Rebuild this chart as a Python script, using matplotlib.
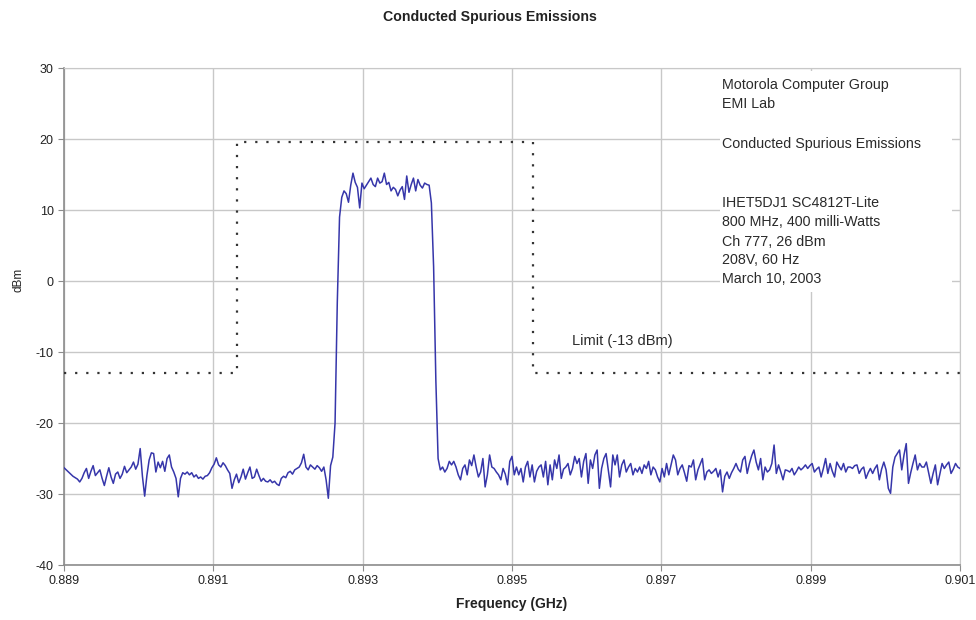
import numpy as np
import matplotlib
matplotlib.use("Agg")
import matplotlib.pyplot as plt
from matplotlib.patches import Rectangle

plt.rcParams['font.family'] = ['Liberation Sans', 'DejaVu Sans']
plt.rcParams['axes.unicode_minus'] = False

# Analyzer sweep: 401 points from 889 MHz to 901 MHz (values in GHz)
f_start, f_stop, n_points = 0.889, 0.901, 401

# Measured level (dBm), below the carrier
noise_low_band = [
    -26.3, -26.6, -26.9, -27.2, -27.5, -27.7, -27.9, -28.3, -27.8, -27.0,
    -26.4, -27.8, -26.8, -26.0, -27.4, -27.0, -26.6, -27.8, -28.8, -27.5,
    -26.3, -27.6, -28.5, -27.2, -26.9, -27.8, -27.2, -26.1, -27.0, -26.6,
    -26.2, -25.5, -26.5, -25.8, -23.6, -27.5, -30.3, -27.4, -25.2, -24.2,
    -24.3, -26.9, -25.5, -26.3, -25.4, -26.8, -25.0, -24.5, -26.2, -26.9,
    -27.8, -30.4, -27.8, -27.0, -27.2, -26.9, -27.3, -27.0, -27.6, -27.3,
    -27.8, -27.6, -27.9, -27.5, -27.4, -27.0, -26.3, -25.8, -24.9, -25.9,
    -26.2, -25.6, -26.0, -26.6, -27.1, -29.2, -28.0, -27.2, -28.4, -27.6,
    -26.5, -27.9, -27.0, -26.2, -27.8, -27.6, -26.5, -27.4, -28.2, -27.8,
    -28.2, -28.3, -28.0, -28.4, -28.2, -28.6, -28.8, -27.8, -27.5, -27.7,
    -27.0, -26.8, -27.2, -26.6, -26.4, -26.2, -25.6, -24.4, -26.2, -26.6,
    -25.9, -26.2, -26.5, -26.0, -26.3, -26.8, -26.2, -28.0, -30.6, -26.0,
    -24.8, -20.0, -3.0, 9.0,
]

# Carrier (channel 777) and its skirts
in_band = [
    11.8, 12.7, 12.3, 11.1, 13.5, 15.2, 13.9, 13.2, 10.3, 13.8,
    13.0, 13.5, 14.0, 14.5, 13.6, 13.3, 14.5, 13.8, 14.0, 15.2,
    13.6, 13.9, 12.7, 13.2, 12.9, 12.0, 12.8, 13.3, 11.5, 14.8,
    12.5, 13.6, 14.5, 12.7, 14.3, 13.5, 13.1, 13.8, 13.6, 13.5,
    11.0, 2.0, -14.0, -25.0, -26.6,
]

# Above the carrier
noise_high_band = [
    -26.2, -26.9, -26.4, -25.4, -25.9, -25.4, -26.2, -27.3, -28.0, -26.4,
    -25.9, -27.3, -25.2, -26.0, -24.5, -26.2, -27.6, -26.9, -25.0, -29.0,
    -27.3, -24.5, -26.2, -26.4, -26.9, -27.3, -28.0, -26.4, -27.2, -28.7,
    -25.4, -24.7, -27.3, -26.2, -27.3, -26.4, -28.3, -26.2, -25.4, -27.6,
    -25.9, -28.3, -26.8, -26.2, -25.9, -27.6, -25.4, -28.7, -25.9, -28.0,
    -25.2, -26.4, -24.5, -27.8, -26.5, -26.2, -25.7, -27.3, -26.4, -24.7,
    -25.7, -25.0, -27.6, -25.4, -24.3, -28.5, -25.2, -26.4, -24.5, -23.8,
    -29.2, -26.4, -25.0, -24.3, -26.6, -29.0, -24.5, -25.9, -24.5, -27.6,
    -25.9, -25.2, -26.9, -26.2, -25.7, -27.3, -26.4, -26.9, -26.2, -27.1,
    -25.9, -26.4, -25.4, -27.3, -26.2, -26.6, -27.6, -28.3, -26.4, -27.6,
    -25.7, -27.3, -25.9, -24.5, -25.2, -27.3, -26.4, -25.9, -27.0, -28.2,
    -26.0,
    -26.2, -25.2, -28.0, -26.6, -25.8, -25.0, -28.0, -26.9, -26.6, -27.1,
    -26.8, -26.4, -27.6, -26.6, -29.7, -27.5, -26.9, -27.8, -27.0, -26.4,
    -25.7, -26.5, -26.9, -25.2, -24.7, -27.1, -25.7, -24.6, -23.8, -25.5,
    -26.6, -25.0, -28.0, -26.2, -26.9, -26.6, -25.7, -23.1, -27.1, -25.9,
    -26.9, -28.0, -26.6, -26.7, -26.9, -26.4, -27.3, -26.8, -26.2, -26.6,
    -26.3, -25.9, -26.4, -26.0, -25.7, -26.9, -26.5, -26.2, -27.6, -26.4,
    -25.0, -27.1, -25.7, -26.8, -27.6, -25.5, -26.1, -26.6, -25.7, -26.9,
    -26.2, -26.2, -26.4, -26.0, -25.9, -27.1, -26.5, -26.2, -27.8, -27.0,
    -26.4, -27.1, -26.4, -25.9, -28.0, -26.5, -25.5, -26.6, -29.2, -29.9,
    -26.2, -24.8, -24.3, -23.8, -26.6, -24.5, -22.9, -28.5, -27.0, -25.7,
    -24.5, -26.6, -25.7, -26.2, -26.2, -25.5, -27.0, -28.5, -27.1, -25.9,
    -28.7, -27.2, -25.7, -26.4, -25.9, -25.5, -27.1, -26.5, -25.7, -26.2,
    -26.4,
]

# Emission mask: -13 dBm outside the allowed block, relaxed inside it
limit_freq = [0.889, 0.89132, 0.89132, 0.89528, 0.89528, 0.901]
limit_dbm = [-13, -13, 19.6, 19.6, -13, -13]

info_lines = [
    ("Motorola Computer Group", 0.966),
    ("EMI Lab", 0.927),
    ("Conducted Spurious Emissions", 0.847),
    ("IHET5DJ1 SC4812T-Lite", 0.729),
    ("800 MHz, 400 milli-Watts", 0.690),
    ("Ch 777, 26 dBm", 0.651),
    ("208V, 60 Hz", 0.613),
    ("March 10, 2003", 0.576),
]

level = np.array(noise_low_band + in_band + noise_high_band)
freq = np.linspace(f_start, f_stop, n_points)
assert len(level) == n_points

fig = plt.figure(figsize=(9.76, 6.2), dpi=100)
ax = fig.add_axes([0.0656, 0.0887, 0.918, 0.8015])

ax.plot(freq, level, color='#3636aa', lw=1.1, zorder=3)
ax.plot(limit_freq, limit_dbm, color='#333333', lw=1.6,
        linestyle=(0, (1, 4)), zorder=3)

ax.set_xlim(0.889, 0.901)
ax.set_ylim(-40, 30)
ax.set_xticks(np.arange(0.889, 0.9011, 0.002))
ax.set_xticklabels(['0.889', '0.891', '0.893', '0.895', '0.897', '0.899', '0.901'])
ax.set_yticks(range(-40, 31, 10))
ax.grid(True, color='#c8c8c8', lw=1.0)
ax.set_axisbelow(True)

for side in ['top', 'right']:
    ax.spines[side].set_color('#c8c8c8')
for side in ['left', 'bottom']:
    ax.spines[side].set_color('#8c8c8c')
    ax.spines[side].set_linewidth(1.2)
ax.tick_params(axis='both', direction='out', length=4, color='#8c8c8c',
               labelsize=9, labelcolor='#222222')

# white panel behind the test notes
ax.add_patch(Rectangle((0.732, 0.549), 0.259, 0.445, transform=ax.transAxes,
                       facecolor='white', edgecolor='none', zorder=2))
for txt, yy in info_lines:
    ax.text(0.734, yy, txt, transform=ax.transAxes, fontsize=10.3,
            va='center', ha='left', color='#2a2a2a', zorder=4)

ax.text(0.8958, -8.4, 'Limit (-13 dBm)', fontsize=10.5, va='center',
        ha='left', color='#2a2a2a', zorder=4)

fig.text(0.502, 0.972, 'Conducted Spurious Emissions', ha='center',
         va='center', fontsize=10.2, fontweight='bold', color='#222222')
ax.set_xlabel('Frequency (GHz)', fontsize=10, fontweight='bold',
              color='#222222', labelpad=7)
ax.set_ylabel('dBm', fontsize=8.5, color='#222222')
ax.yaxis.set_label_coords(-0.044, 0.573)

fig.savefig('out.png', dpi=100)
